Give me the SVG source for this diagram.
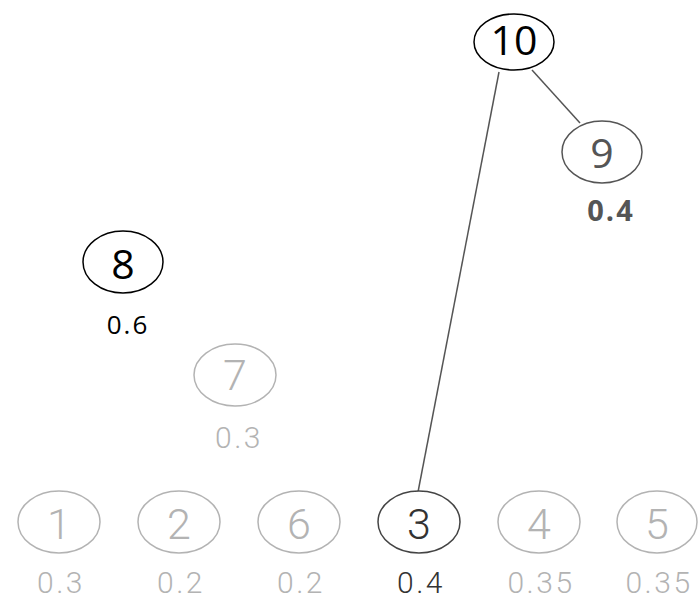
<svg xmlns="http://www.w3.org/2000/svg" width="698" height="600" viewBox="0 0 698 600">
<style>
.n{fill:#fff;stroke-width:1.5}
.big{font-family:"Open Sans","Noto Sans",sans-serif;font-size:41px;text-anchor:middle}
.lbl{font-family:"Open Sans","Noto Sans",sans-serif;font-size:26px;letter-spacing:2px;text-anchor:middle}
.cn{font-family:Roboto,"Liberation Sans",sans-serif;font-weight:300;font-size:43px;text-anchor:middle}
.cl{font-family:Roboto,"Liberation Sans",sans-serif;font-weight:300;font-size:30px;letter-spacing:2.5px;text-anchor:middle}
.light{stroke:#b3b3b3}
.lt{fill:#b3b3b3}
</style>
<rect width="698" height="600" fill="#fff"/>
<g id="connectors" stroke="#555" stroke-width="1.5" fill="none">
<line x1="532" y1="70" x2="580" y2="123"/>
<line x1="499" y1="72" x2="418" y2="492"/>
</g>
<g id="n10"><ellipse class="n" cx="514" cy="42" rx="40" ry="28" stroke="#000"/><text class="big" x="514" y="55" fill="#000">10</text></g>
<g id="n9"><ellipse class="n" cx="602" cy="152" rx="40" ry="31" stroke="#555"/><text class="big" x="602" y="168" fill="#555">9</text><text x="611" y="221" fill="#555" font-family="'Open Sans','Noto Sans',sans-serif" font-size="29" font-weight="bold" letter-spacing="2" text-anchor="middle">0.4</text></g>
<g id="n8"><ellipse class="n" cx="123" cy="262" rx="40" ry="31" stroke="#000"/><text class="big" x="123" y="279" fill="#000">8</text><text class="lbl" x="128" y="334" fill="#000">0.6</text></g>
<g id="n7"><ellipse class="n light" cx="235" cy="375" rx="41" ry="31"/><text class="cn lt" x="235" y="390">7</text><text class="cl lt" x="239" y="448">0.3</text></g>
<g id="n1"><ellipse class="n light" cx="59" cy="522" rx="41" ry="31"/><text class="cn lt" x="59" y="539">1</text><text class="cl lt" x="61" y="593">0.3</text></g>
<g id="n2"><ellipse class="n light" cx="179" cy="522" rx="41" ry="31"/><text class="cn lt" x="179" y="539">2</text><text class="cl lt" x="181" y="593">0.2</text></g>
<g id="n6"><ellipse class="n light" cx="299" cy="522" rx="41" ry="31"/><text class="cn lt" x="299" y="539">6</text><text class="cl lt" x="301" y="593">0.2</text></g>
<g id="n3"><ellipse class="n" cx="419" cy="522" rx="41" ry="31" stroke="#444"/><text class="cn" x="419" y="539" fill="#333">3</text><text class="cl" x="421" y="593" fill="#333">0.4</text></g>
<g id="n4"><ellipse class="n light" cx="539" cy="522" rx="41" ry="31"/><text class="cn lt" x="539" y="539">4</text><text class="cl lt" x="541" y="593">0.35</text></g>
<g id="n5"><ellipse class="n light" cx="657" cy="522" rx="40" ry="31"/><text class="cn lt" x="657" y="539">5</text><text class="cl lt" x="659" y="593">0.35</text></g>
</svg>
